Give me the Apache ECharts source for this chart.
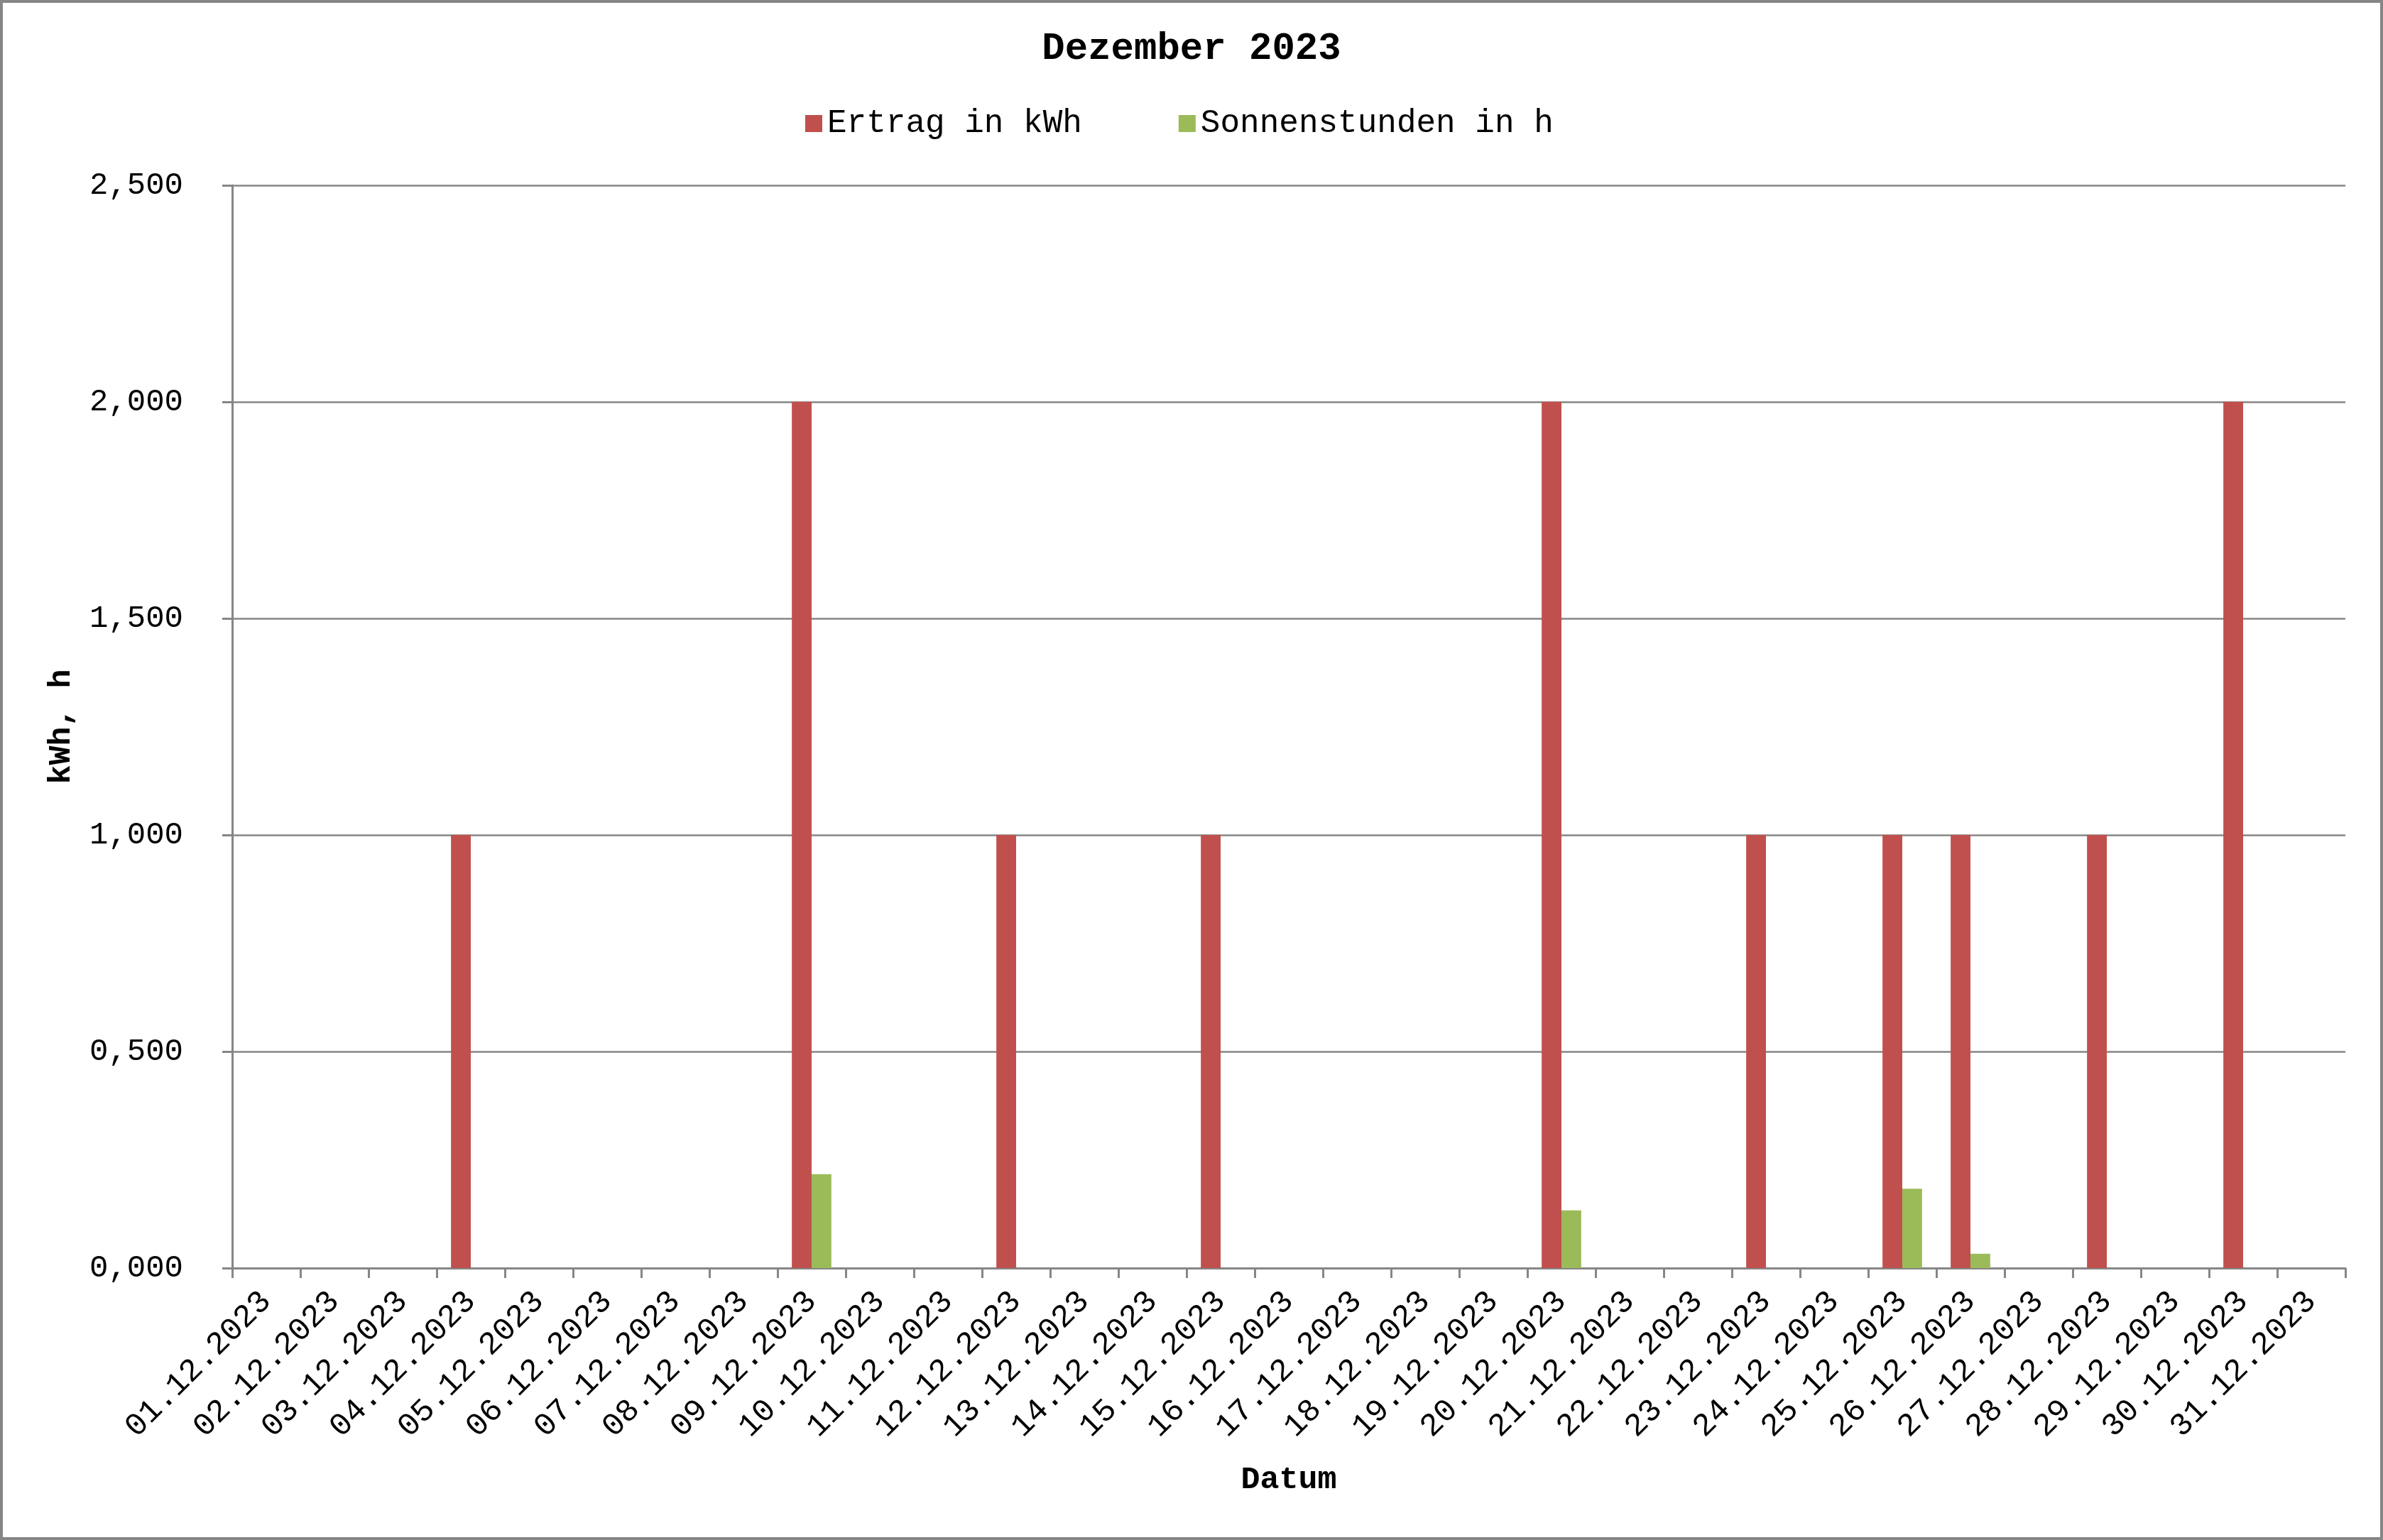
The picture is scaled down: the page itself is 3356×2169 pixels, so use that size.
<!DOCTYPE html>
<html>
<head>
<meta charset="utf-8">
<style>
html,body{margin:0;padding:0;background:#fff;}
#c{width:3356px;height:2169px;}
</style>
<script src="https://cdn.jsdelivr.net/npm/echarts@6/dist/echarts.min.js"></script>
</head>
<body>
<div id="c"></div>
<script>
const categories = ['01.12.2023','02.12.2023','03.12.2023','04.12.2023','05.12.2023','06.12.2023','07.12.2023','08.12.2023','09.12.2023','10.12.2023','11.12.2023','12.12.2023','13.12.2023','14.12.2023','15.12.2023','16.12.2023','17.12.2023','18.12.2023','19.12.2023','20.12.2023','21.12.2023','22.12.2023','23.12.2023','24.12.2023','25.12.2023','26.12.2023','27.12.2023','28.12.2023','29.12.2023','30.12.2023','31.12.2023'];
const ertrag = [0,0,0,1,0,0,0,0,2,0,0,1,0,0,1,0,0,0,0,2,0,0,1,0,1,1,0,1,0,2,0];
const sonnenstunden = [0,0,0,0,0,0,0,0,0.217,0,0,0,0,0,0,0,0,0,0,0.133,0,0,0,0,0.183,0.033,0,0,0,0,0];
const yTickLabels = ['0,000','0,500','1,000','1,500','2,000','2,500'];

const FONT = '"Liberation Mono", "Courier New", monospace';
const GREY = '#868686';
const chart = echarts.init(document.getElementById('c'), null, {renderer:'canvas'});
chart.setOption({
  animation: false,
  backgroundColor: '#fff',
  title: {
    text: 'Dezember 2023',
    left: 'center',
    top: 37,
    textStyle: {fontFamily: FONT, fontSize: 54, fontWeight: 'bold', color: '#000'}
  },
  legend: {
    top: 146,
    left: 1129,
    itemWidth: 24,
    itemHeight: 24,
    itemGap: 136,
    icon: 'rect',
    textStyle: {fontFamily: FONT, fontSize: 46, color: '#000', padding: [0,0,0,2]},
    data: ['Ertrag in kWh', 'Sonnenstunden in h']
  },
  graphic: [{
    type: 'rect',
    shape: {x: 2, y: 2, width: 3352, height: 2165},
    style: {fill: 'none', stroke: GREY, lineWidth: 4},
    silent: true, z: 100
  }],
  grid: {left: 327, right: 53, top: 261, bottom: 383, containLabel: false},
  xAxis: {
    type: 'category',
    data: categories,
    name: 'Datum',
    nameLocation: 'middle',
    nameGap: 276,
    nameTextStyle: {fontFamily: FONT, fontSize: 45, fontWeight: 'bold', color: '#000'},
    boundaryGap: true,
    axisLine: {lineStyle: {color: GREY, width: 3}},
    axisTick: {show: true, length: 14, alignWithLabel: false, interval: 0, lineStyle: {color: GREY, width: 3}},
    axisLabel: {interval: 0, rotate: 45, margin: 40, fontFamily: FONT, fontSize: 45, color: '#000'},
    splitLine: {show: false}
  },
  yAxis: {
    type: 'value',
    min: 0, max: 2.5, interval: 0.5,
    name: 'kWh, h',
    nameLocation: 'middle',
    nameGap: 218,
    nameRotate: 90,
    nameTextStyle: {fontFamily: FONT, fontSize: 45, fontWeight: 'bold', color: '#000'},
    axisLine: {show: true, lineStyle: {color: GREY, width: 3}},
    axisTick: {show: true, length: 14, lineStyle: {color: GREY, width: 3}},
    axisLabel: {
      margin: 69, fontFamily: FONT, fontSize: 44, color: '#000',
      formatter: function (v) { return yTickLabels[Math.round(v / 0.5)]; }
    },
    splitLine: {show: true, lineStyle: {color: GREY, width: 2.5}}
  },
  series: [
    {name: 'Ertrag in kWh', type: 'bar', data: ertrag, barWidth: '29%', barGap: '0%', itemStyle: {color: '#C0504D'}},
    {name: 'Sonnenstunden in h', type: 'bar', data: sonnenstunden, barWidth: '29%', barGap: '0%', itemStyle: {color: '#9BBB59'}}
  ]
});
</script>
</body>
</html>
